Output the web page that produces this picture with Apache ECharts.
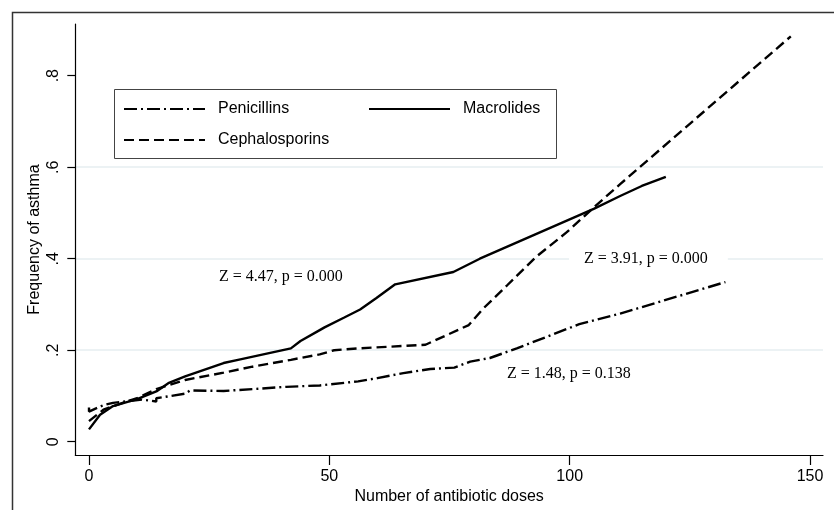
<!DOCTYPE html>
<html><head><meta charset="utf-8">
<script src="https://cdn.jsdelivr.net/npm/echarts@6/dist/echarts.min.js"></script>
<style>html,body{margin:0;padding:0;background:#fff}#c{width:834px;height:510px}</style>
</head><body><div id="c"></div>
<script>
// ---- data ----
const seriesNames = ['Penicillins', 'Macrolides', 'Cephalosporins'];

const penicillinsX = [0, 0, 3, 5, 11, 14, 14, 20, 21, 28, 34, 41, 48, 56, 60, 65.4, 71, 76, 79.3, 83.4, 89, 102, 110.5, 132.4];
const penicillinsY = [0.075, 0.066, 0.08, 0.085, 0.092, 0.088, 0.095, 0.105, 0.112, 0.111, 0.115, 0.12, 0.123, 0.132, 0.139, 0.15, 0.159, 0.162, 0.175, 0.183, 0.204, 0.257, 0.28, 0.349];

const macrolidesX = [0, 2.3, 5, 10, 14, 16.5, 20, 28, 31, 42, 44, 48, 49, 53, 56.4, 59.8, 63.7, 75.8, 81.3, 105, 110.5, 115, 120];
const macrolidesY = [0.027, 0.059, 0.078, 0.093, 0.11, 0.128, 0.143, 0.172, 0.179, 0.204, 0.22, 0.244, 0.25, 0.271, 0.289, 0.314, 0.344, 0.371, 0.4, 0.509, 0.537, 0.559, 0.579];

const cephalosporinsX = [0, 3, 7, 10, 14, 20, 28, 34, 42, 48, 51, 56, 70, 79, 82, 87, 93, 99.4, 105, 110.5, 146];
const cephalosporinsY = [0.045, 0.07, 0.085, 0.095, 0.115, 0.135, 0.151, 0.164, 0.179, 0.191, 0.2, 0.204, 0.212, 0.255, 0.291, 0.342, 0.404, 0.458, 0.512, 0.563, 0.886];

const xTicks = [0, 50, 100, 150];
const yTicks = [0, 0.2, 0.4, 0.6, 0.8];
const yTickLabels = ['0', '.2', '.4', '.6', '.8'];

const annotations = [
  { text: 'Z = 4.47, p = 0.000', x: 219, y: 279 },
  { text: 'Z = 3.91, p = 0.000', x: 584, y: 260 },
  { text: 'Z = 1.48, p = 0.138', x: 507, y: 376 }
];

// ---- build ----
const zip = (xs, ys) => xs.map((x, i) => [x, ys[i]]);
const styles = {
  Penicillins: [13, 4, 2, 4],
  Macrolides: 'solid',
  Cephalosporins: [10, 5]
};
const dataMap = {
  Penicillins: zip(penicillinsX, penicillinsY),
  Macrolides: zip(macrolidesX, macrolidesY),
  Cephalosporins: zip(cephalosporinsX, cephalosporinsY)
};

const chart = echarts.init(document.getElementById('c'), null, { renderer: 'canvas' });
const sans = '"Liberation Sans", Arial, sans-serif';
const serif = '"Liberation Serif", "Times New Roman", serif';

function legendAt(name, left, top, gap) {
  return {
    data: [name], left: left, top: top,
    orient: 'horizontal', padding: 0, itemWidth: 81, itemHeight: 14,
    selectedMode: false,
    itemStyle: { opacity: 0 },
    textStyle: { fontFamily: sans, fontSize: 16, color: '#000', padding: [0, 0, 0, gap] }
  };
}

const option = {
  backgroundColor: '#fff',
  animation: false,
  grid: { left: 75.3, right: 11, top: 24, bottom: 52.7, containLabel: false },
  xAxis: {
    type: 'value', min: -2.85, max: 152.7,
    name: 'Number of antibiotic doses', nameLocation: 'middle', nameGap: 34, nameMoveOverlap: false,
    nameTextStyle: { fontFamily: sans, fontSize: 16, color: '#000' },
    axisLine: { show: true, onZero: false, lineStyle: { color: '#000', width: 1.2 } },
    axisTick: { show: true, length: 10, customValues: xTicks, lineStyle: { color: '#000', width: 1.2 } },
    axisLabel: { customValues: xTicks, margin: 14, fontFamily: sans, fontSize: 16, color: '#000' },
    splitLine: { show: false }
  },
  yAxis: {
    type: 'value', min: -0.029, max: 0.913, splitNumber: 5,
    name: 'Frequency of asthma', nameLocation: 'middle', nameGap: 33, nameMoveOverlap: false,
    nameTextStyle: { fontFamily: sans, fontSize: 16, color: '#000' },
    axisLine: { show: true, onZero: false, lineStyle: { color: '#000', width: 1.2 } },
    axisTick: { show: true, length: 8, customValues: yTicks, lineStyle: { color: '#000', width: 1.2 } },
    axisLabel: {
      customValues: yTicks, rotate: 90, margin: 14, fontFamily: sans, fontSize: 16, color: '#000',
      formatter: v => { const i = yTicks.findIndex(t => Math.abs(t - v) < 1e-6); return i >= 0 ? yTickLabels[i] : ''; }
    },
    splitLine: { show: true, showMinLine: false, showMaxLine: false, lineStyle: { color: '#e6eef1', width: 1.5 } }
  },
  legend: [
    legendAt('Penicillins', 123, 101, 8),
    legendAt('Macrolides', 368, 101, 8),
    legendAt('Cephalosporins', 123, 132, 8)
  ],
  graphic: [
    { type: 'rect', left: 10, top: 10, z: -10, silent: true,
      shape: { x: 0, y: 0, width: 900, height: 600 },
      style: { fill: 'none', stroke: '#333', lineWidth: 1.5 } },
    { type: 'rect', left: 114, top: 89, z: 0, silent: true,
      shape: { x: 0, y: 0, width: 442, height: 69 },
      style: { fill: '#fff', stroke: '#444', lineWidth: 1 } }
  ].concat(annotations.map((a, i) => ({
    type: 'text', left: a.x - (i === 1 ? 15 : 0), top: a.y - 10, z: 10, silent: true,
    style: {
      text: a.text, font: '16px ' + serif, fill: '#000',
      backgroundColor: i === 1 ? '#fff' : null, padding: i === 1 ? [1, 20, 1, 15] : 0
    }
  }))),
  series: seriesNames.map(n => ({
    name: n, type: 'line', data: dataMap[n],
    symbol: 'none', showSymbol: false, smooth: false, z: 3,
    lineStyle: { color: '#000', width: 2.4, type: styles[n], cap: 'butt' },
    itemStyle: { color: '#000' }
  }))
};
chart.setOption(option);
</script>
</body></html>
